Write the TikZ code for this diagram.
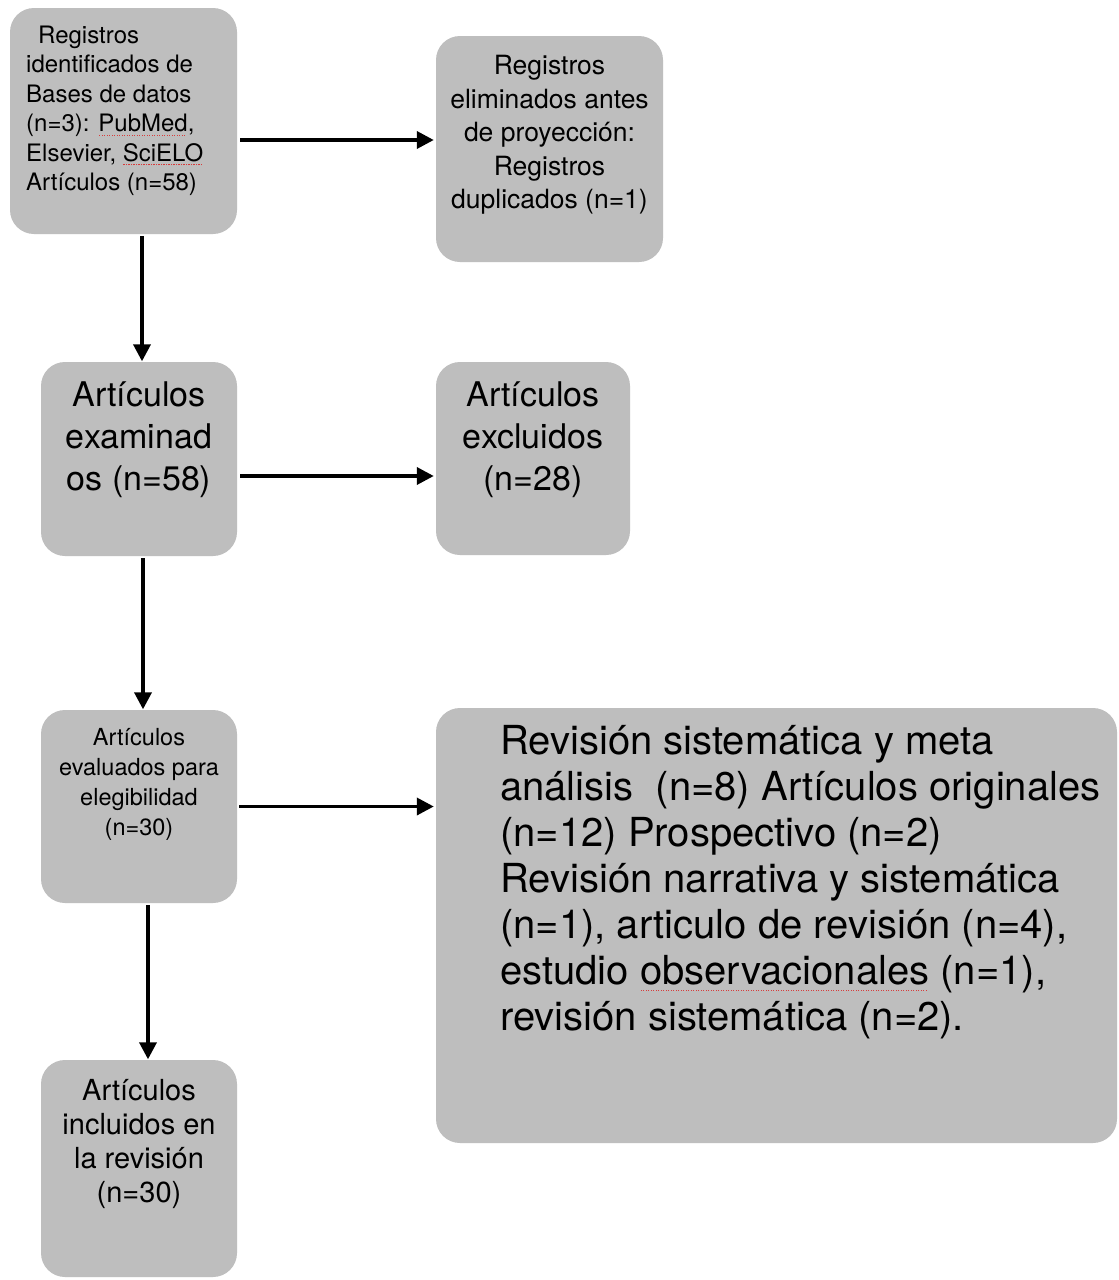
\documentclass[tikz,border=0pt]{standalone}
\usepackage{fontspec}
\setmainfont{TeX Gyre Heros}
\usetikzlibrary{arrows.meta,calc}
\definecolor{boxgray}{RGB}{190,190,190}
\definecolor{spellred}{RGB}{215,60,60}
\newlength\spellw
\newcommand\spellu[2][4pt]{\settowidth\spellw{#2}\leavevmode\rlap{\raisebox{-#1}{\textcolor{spellred}{\leaders\hbox to 2.5pt{\hss\rule{1.3pt}{1.3pt}\hss}\hskip\spellw}}}#2}
\tikzset{
  box/.style={fill=boxgray, rounded corners=24pt, inner sep=0pt, draw=none},
  lbl/.style={inner sep=0pt, text=black},
  arr/.style={line width=3.6pt, -{Triangle[length=17pt,width=17pt]}, shorten >=2pt}
}
\begin{document}
\begin{tikzpicture}[x=1pt,y=-1pt]
\fill[white] (0,0) rectangle (1119,1280);
\useasboundingbox (0,0) rectangle (1119,1280);
% boxes
\node[box, minimum width=227, minimum height=226] (b1) at (123.5,121) {};
\node[box, minimum width=227, minimum height=226] (b2) at (549.5,149) {};
\node[box, minimum width=196, minimum height=194] (b3) at (139,459) {};
\node[box, minimum width=194, minimum height=193] (b4) at (533,458.5) {};
\node[box, minimum width=196, minimum height=193] (b5) at (139,806.5) {};
\node[box, minimum width=681, minimum height=435] (b6) at (776.5,925.5) {};
\node[box, minimum width=196, minimum height=217] (b7) at (139,1168.5) {};
% texts
\node[lbl, anchor=west, align=left, font=\fontsize{24}{29.5}\selectfont] (t1) at (26,111)
  {\hspace*{12pt}Registros\\identificados de\\Bases de datos\\(n=3): \spellu{PubMed},\\Elsevier, \spellu{SciELO}\\Artículos (n=58)};
\node[lbl, align=center, font=\fontsize{26.5}{33.5}\selectfont] (t2) at (549.5,135)
  {Registros\\eliminados antes\\de proyección:\\Registros\\duplicados (n=1)};
\node[lbl, align=center, font=\fontsize{34}{42}\selectfont] (t3) at (139,440)
  {Artículos\\examinad\\os (n=58)};
\node[lbl, align=center, font=\fontsize{34}{42}\selectfont] (t4) at (533,440)
  {Artículos\\excluidos\\(n=28)};
\node[lbl, align=center, font=\fontsize{23.5}{30}\selectfont] (t5) at (139,784)
  {Artículos\\evaluados para\\elegibilidad\\(n=30)};
\node[lbl, anchor=west, align=left, font=\fontsize{40}{46}\selectfont] (t6) at (500,882.5)
  {Revisión sistemática y meta\\análisis\ \ (n=8) Artículos originales\\(n=12) Prospectivo (n=2)\\Revisión narrativa y sistemática\\(n=1), articulo de revisión (n=4),\\estudio \spellu[6pt]{observacionales} (n=1),\\revisión sistemática (n=2).};
\node[lbl, align=center, font=\fontsize{29}{34}\selectfont] (t7) at (139,1144)
  {Artículos\\incluidos en\\la revisión\\(n=30)};
% connectors
\coordinate (s1) at ($(b1.east)+(3,19)$);
\draw[arr] (s1) -- (s1 -| b2.west);
\coordinate (s2) at ($(b1.south)+(18.5,2)$);
\draw[arr, shorten >=0.5pt] (s2) -- (s2 |- b3.north);
\coordinate (s3) at ($(b3.east)+(3,17)$);
\draw[arr] (s3) -- (s3 -| b4.west);
\coordinate (s4) at ($(b3.south)+(4,2)$);
\draw[arr, shorten >=0.5pt] (s4) -- (s4 |- b5.north);
\coordinate (s5) at ($(b5.east)+(2,0)$);
\draw[arr] (s5) -- (s5 -| b6.west);
\coordinate (s6) at ($(b5.south)+(9,2)$);
\draw[arr, shorten >=0.5pt] (s6) -- (s6 |- b7.north);
\end{tikzpicture}
\end{document}
